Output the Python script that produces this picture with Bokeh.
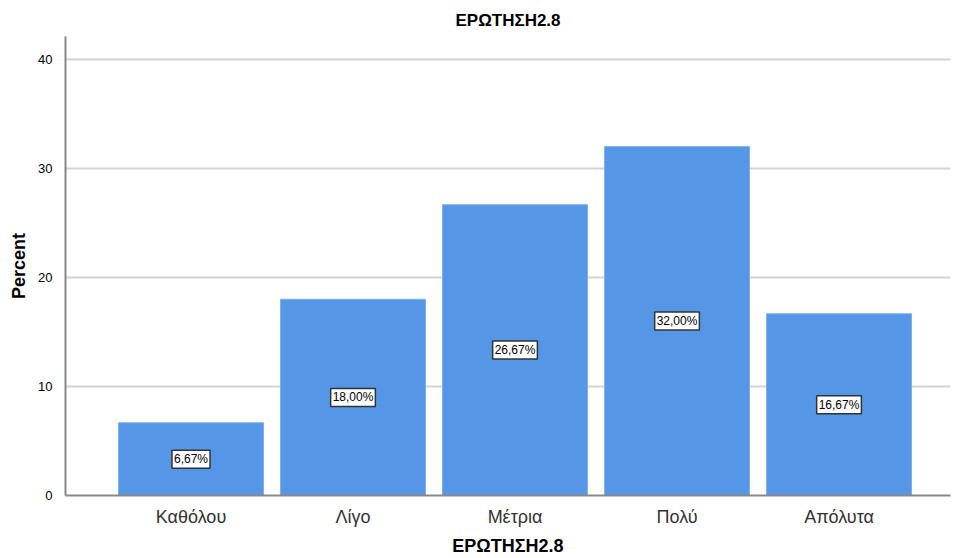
from bokeh.plotting import figure
from bokeh.models import ColumnDataSource, Label, Range1d, FixedTicker
from bokeh.embed import file_html
from bokeh.resources import INLINE

categories = ["Καθόλου", "Λίγο", "Μέτρια", "Πολύ", "Απόλυτα"]
percents = [6.67, 18.00, 26.67, 32.00, 16.67]
labels = ["6,67%", "18,00%", "26,67%", "32,00%", "16,67%"]
y_ticks = [0, 10, 20, 30, 40]

xs = list(range(1, len(categories) + 1))
src = ColumnDataSource(dict(x=xs, top=percents))

p = figure(width=953, height=558, output_backend="svg", toolbar_location=None,
           x_range=Range1d(0.2253, 5.688), y_range=Range1d(0, 42.1),
           min_border_left=65, min_border_top=36, min_border_bottom=63, min_border_right=3)
p.title.text = "ΕΡΩΤΗΣΗ2.8"
p.title.align = "center"
p.title.text_font = "Liberation Sans"
p.title.text_font_size = "17px"
p.title.text_font_style = "bold"
p.title.text_color = "#000000"
p.title.offset = 0
p.title.standoff = 14
p.outline_line_color = None

p.vbar(x="x", top="top", width=0.895, source=src, fill_color="#5596E6",
       line_color="#7EB0EC", line_width=1)

for x, v, lab in zip(xs, percents, labels):
    p.add_layout(Label(x=x, y=v / 2, text=lab, text_align="center",
                       text_baseline="middle", text_font_size="12px", text_font="Liberation Sans",
                       text_color="#000000", background_fill_color="white",
                       border_line_color="#333333", border_line_width=1.5, padding=2))

p.xaxis.ticker = FixedTicker(ticks=xs)
p.xaxis.major_label_overrides = {x: c for x, c in zip(xs, categories)}
p.yaxis.ticker = FixedTicker(ticks=y_ticks)

for ax in (p.xaxis[0], p.yaxis[0]):
    ax.axis_line_color = "#888888"
    ax.axis_line_width = 2
    ax.major_tick_line_color = None
    ax.minor_tick_line_color = None
    ax.axis_label_text_font = "Liberation Sans"
    ax.axis_label_text_font_style = "bold"
    ax.axis_label_text_font_size = "18px"
    ax.axis_label_text_color = "#000000"
    ax.major_label_text_font = "Liberation Sans"

p.xaxis.axis_label = "ΕΡΩΤΗΣΗ2.8"
p.xaxis.major_label_text_font_size = "18px"
p.xaxis.major_label_text_color = "#333333"
p.xaxis.major_label_standoff = 5
p.xaxis.axis_label_standoff = 6
p.yaxis.axis_label = "Percent"
p.yaxis.major_label_text_font_size = "13px"
p.yaxis.major_label_text_color = "#000000"
p.yaxis.major_label_standoff = 7
p.yaxis.axis_label_standoff = 6

p.xgrid.grid_line_color = None
p.ygrid.grid_line_color = "#d4d4d4"
p.ygrid.grid_line_width = 2

open("out.html", "w").write(file_html(p, INLINE))
